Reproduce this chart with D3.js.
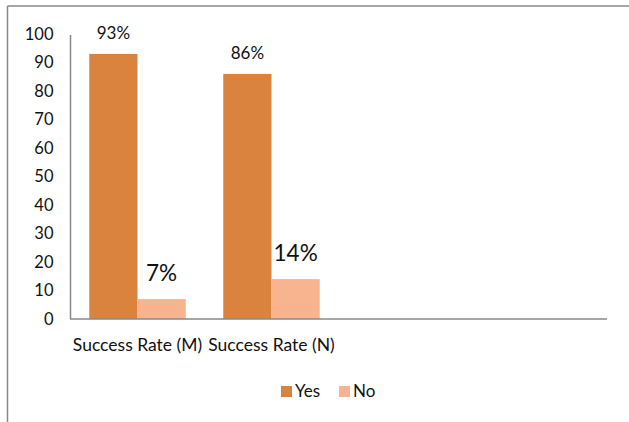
<!DOCTYPE html>
<html><head><meta charset="utf-8">
<script src="https://cdn.jsdelivr.net/npm/d3@7"></script>
<style>body{margin:0;background:#fff}svg{display:block}text{font-family:Lato,"Open Sans",sans-serif;fill:#111}</style>
</head><body><svg id="c" width="629" height="422"></svg>
<script>
const categories = ["Success Rate (M)", "Success Rate (N)", "", " "];
const seriesNames = ["Yes", "No"];
const yesValues = [93, 86, null, null];
const noValues = [7, 14, null, null];
const yesLabels = ["93%", "86%", "", ""];
const noLabels = ["7%", "14%", "", ""];
const yTicks = [0,10,20,30,40,50,60,70,80,90,100];
const colors = {Yes: "#DA833E", No: "#F8B48E"};

const svg = d3.select("#c");
// frame
svg.append("line").attr("x1",7.5).attr("x2",629).attr("y1",6).attr("y2",6).attr("stroke","#888").attr("stroke-width",1.5);
svg.append("line").attr("x1",7.5).attr("x2",7.5).attr("y1",6).attr("y2",422).attr("stroke","#888").attr("stroke-width",1.5);

const x0 = d3.scaleBand().domain(categories).range([70.5, 606.5]).paddingInner(0.28).paddingOuter(0.14);
const x1 = d3.scaleBand().domain(seriesNames).range([0, x0.bandwidth()]);
const y = d3.scaleLinear().domain([0,100]).range([319, 34]);

// y axis
const ya = svg.append("g").attr("transform","translate(70.5,0)")
  .call(d3.axisLeft(y).tickValues(yTicks).tickSize(0).tickPadding(17));
ya.select(".domain").attr("stroke","#888").attr("stroke-width",1.5).attr("d","M0,"+(y(100)+1)+"V"+y(0));
ya.selectAll("text").style("font-size","16.5px").style("font-family","Lato,sans-serif").attr("fill","#111");

const data = categories.map((c,i)=>({c, vals:[{k:"Yes",v:yesValues[i],l:yesLabels[i]},{k:"No",v:noValues[i],l:noLabels[i]}]}));
const g = svg.append("g");
const groups = g.selectAll("g").data(data).join("g").attr("transform",d=>`translate(${x0(d.c)},0)`);
groups.selectAll("rect").data(d=>d.vals.filter(v=>v.v!=null)).join("rect")
  .attr("x",d=>x1(d.k)).attr("width",x1.bandwidth())
  .attr("y",d=>y(d.v)).attr("height",d=>y(0)-y(d.v)).attr("fill",d=>colors[d.k]);
groups.selectAll("text").data(d=>d.vals.filter(v=>v.v!=null)).join("text")
  .attr("x",d=>x1(d.k)+x1.bandwidth()/2)
  .attr("y",d=>y(d.v)-(d.k==="Yes"?15:18))
  .attr("text-anchor","middle")
  .style("font-size",d=>d.k==="Yes"?"17px":"22.5px")
  .text(d=>d.l);

// x axis
const xa = svg.append("g").attr("transform","translate(0,319)")
  .call(d3.axisBottom(x0).tickSize(0).tickPadding(20));
xa.select(".domain").attr("stroke","#888").attr("stroke-width",1.5).attr("d","M70,0H607");
xa.selectAll("text").style("font-size","17.5px").style("font-family","Lato,sans-serif").attr("fill","#111");

// legend
const leg = svg.append("g");
const legX = [281, 339];
seriesNames.forEach((s,i)=>{
  leg.append("rect").attr("x",legX[i]).attr("y",386).attr("width",11).attr("height",11).attr("fill",colors[s]);
  leg.append("text").attr("x",legX[i]+14).attr("y",397).style("font-size","17px").text(s);
});
</script></body></html>
